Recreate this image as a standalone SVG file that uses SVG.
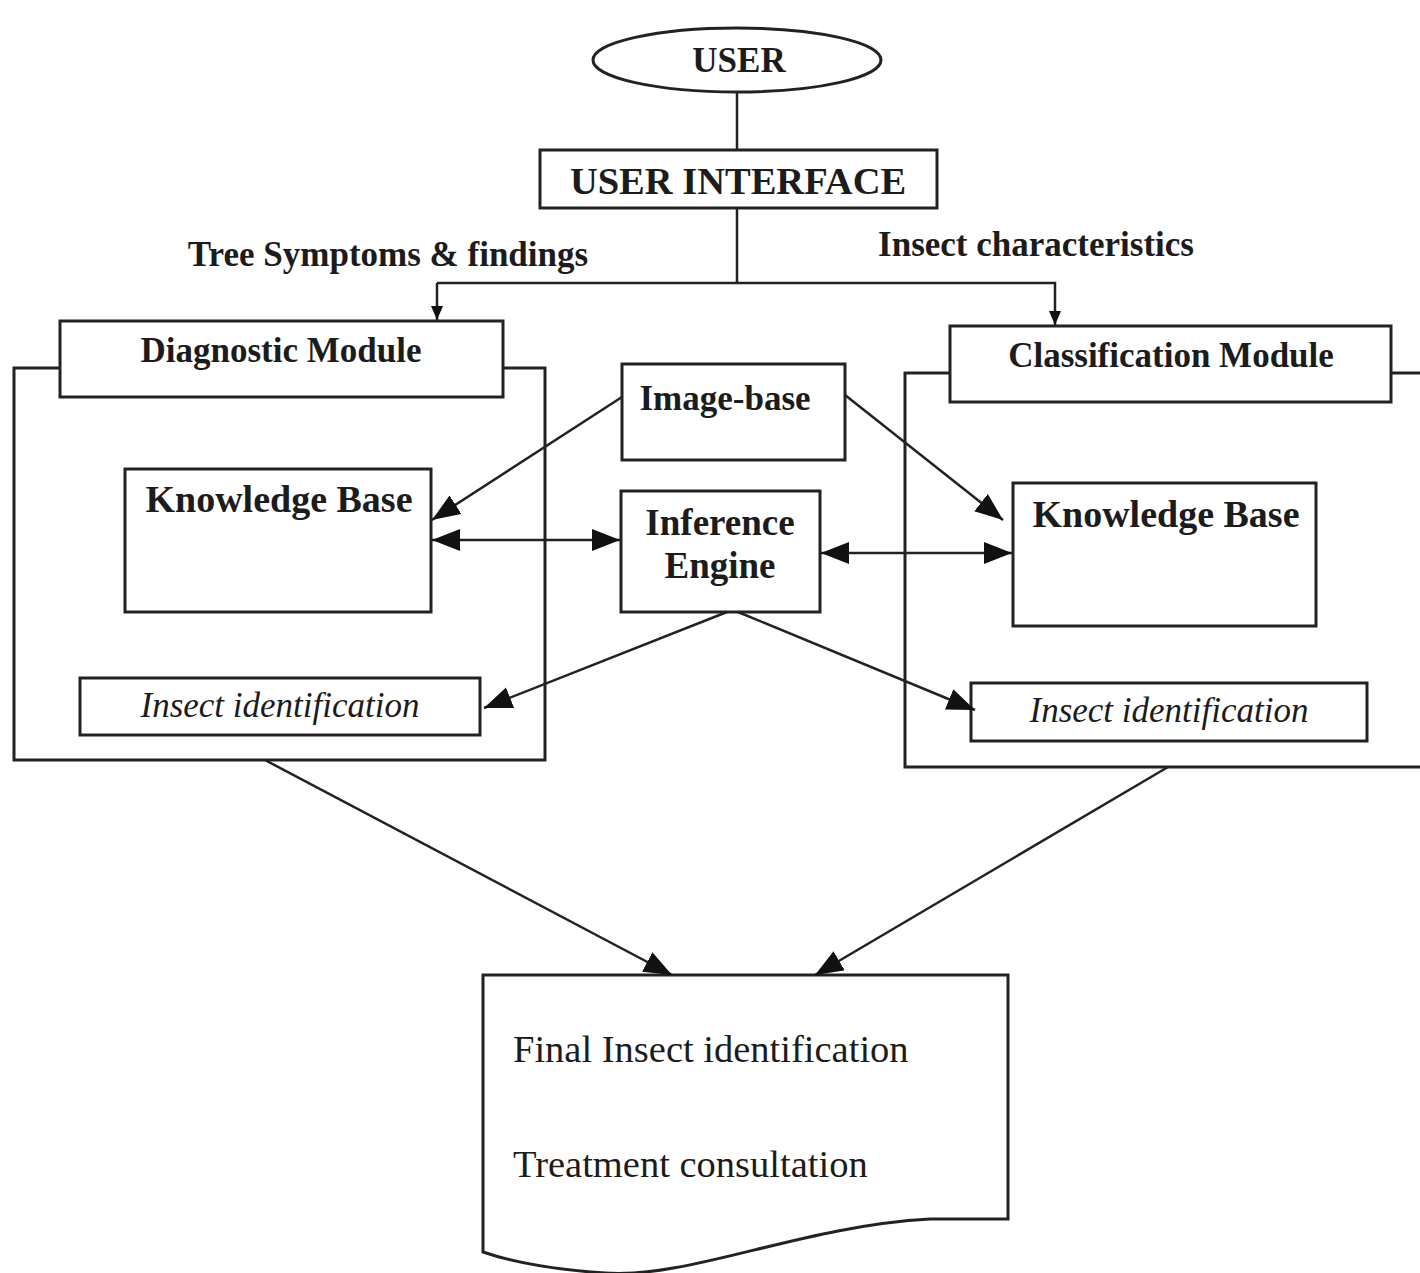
<svg xmlns="http://www.w3.org/2000/svg" width="1420" height="1273" viewBox="0 0 1420 1273">
<style>
.s{fill:#fff;stroke:#222;stroke-width:3}
.o{fill:none;stroke:#222;stroke-width:3}
.b{font-family:"Liberation Serif","Times New Roman",serif;font-weight:bold;fill:#1c1c1c;text-anchor:middle}
.i{font-family:"Liberation Serif","Times New Roman",serif;font-style:italic;fill:#1c1c1c;text-anchor:middle}
.r{font-family:"Liberation Serif","Times New Roman",serif;fill:#1c1c1c}
.c{fill:none;stroke:#222;stroke-width:2.5}
</style>
<defs>
<marker id="big" markerUnits="userSpaceOnUse" markerWidth="30" markerHeight="24" refX="28" refY="11" orient="auto-start-reverse"><path d="M0,0 L28,11 L0,22 z" fill="#111"/></marker>
<marker id="sm" markerUnits="userSpaceOnUse" markerWidth="16" markerHeight="16" refX="14" refY="6" orient="auto"><path d="M0,0 L14,6 L0,12 z" fill="#111"/></marker>
</defs>
<rect width="1420" height="1273" fill="#fff"/>
<g id="user"><ellipse class="s" cx="737" cy="60" rx="144" ry="32"/><text class="b" x="739" y="72" font-size="35">USER</text></g>
<g id="ui"><rect class="s" x="540" y="150" width="397" height="58"/><text class="b" x="738" y="194" font-size="38.5">USER INTERFACE</text></g>
<g id="lbl-tree"><text class="b" x="388" y="266" font-size="35">Tree Symptoms &amp; findings</text></g>
<g id="lbl-insect"><text class="b" x="1036" y="256" font-size="35">Insect characteristics</text></g>
<g id="diag-outer"><rect class="o" x="14" y="368" width="531" height="392"/></g>
<g id="class-outer"><path class="o" d="M1425,373 H905 V767 H1425"/></g>
<g id="diag"><rect class="s" x="60" y="321" width="443" height="76"/><text class="b" x="281" y="362" font-size="35">Diagnostic Module</text></g>
<g id="class"><rect class="s" x="950" y="326" width="441" height="76"/><text class="b" x="1171" y="367" font-size="35">Classification Module</text></g>
<g id="kb-left"><rect class="s" x="125" y="469" width="306" height="143"/><text class="b" x="279" y="512" font-size="38">Knowledge Base</text></g>
<g id="kb-right"><rect class="s" x="1013" y="483" width="303" height="143"/><text class="b" x="1166" y="527" font-size="38">Knowledge Base</text></g>
<g id="imagebase"><rect class="s" x="622" y="364" width="223" height="96"/><text class="b" x="725" y="410" font-size="35">Image-base</text></g>
<g id="inference"><rect class="s" x="621" y="491" width="199" height="121"/><text class="b" x="720" y="535" font-size="37">Inference</text><text class="b" x="720" y="578" font-size="37">Engine</text></g>
<g id="id-left"><rect class="s" x="80" y="678" width="400" height="57"/><text class="i" x="280" y="717" font-size="35">Insect identification</text></g>
<g id="id-right"><rect class="s" x="971" y="683" width="396" height="58"/><text class="i" x="1169" y="722" font-size="35">Insect identification</text></g>
<g id="final"><path class="s" d="M483,975 H1008 V1219 H930 C800,1226 690,1279 605,1273 C560,1270 515,1263 483,1252 Z"/><text class="r" x="513" y="1062" font-size="38.5">Final Insect identification</text><text class="r" x="513" y="1177" font-size="38.5">Treatment consultation</text></g>
<g id="connectors">
<line class="c" x1="737" y1="92" x2="737" y2="150"/>
<line class="c" x1="737" y1="208" x2="737" y2="283"/>
<path class="c" d="M437,283 H1055 V325" marker-end="url(#sm)"/>
<line class="c" x1="437" y1="283" x2="437" y2="320" marker-end="url(#sm)"/>
<line class="c" x1="622" y1="397" x2="432" y2="520" marker-end="url(#big)"/>
<line class="c" x1="845" y1="395" x2="1003" y2="520" marker-end="url(#big)"/>
<line class="c" x1="432" y1="540" x2="620" y2="540" marker-start="url(#big)" marker-end="url(#big)"/>
<line class="c" x1="821" y1="553" x2="1012" y2="553" marker-start="url(#big)" marker-end="url(#big)"/>
<line class="c" x1="727" y1="612" x2="484" y2="708" marker-end="url(#big)"/>
<line class="c" x1="738" y1="612" x2="975" y2="710" marker-end="url(#big)"/>
<line class="c" x1="265" y1="760" x2="672" y2="975" marker-end="url(#big)"/>
<line class="c" x1="1168" y1="767" x2="815" y2="975" marker-end="url(#big)"/>
</g>
</svg>
